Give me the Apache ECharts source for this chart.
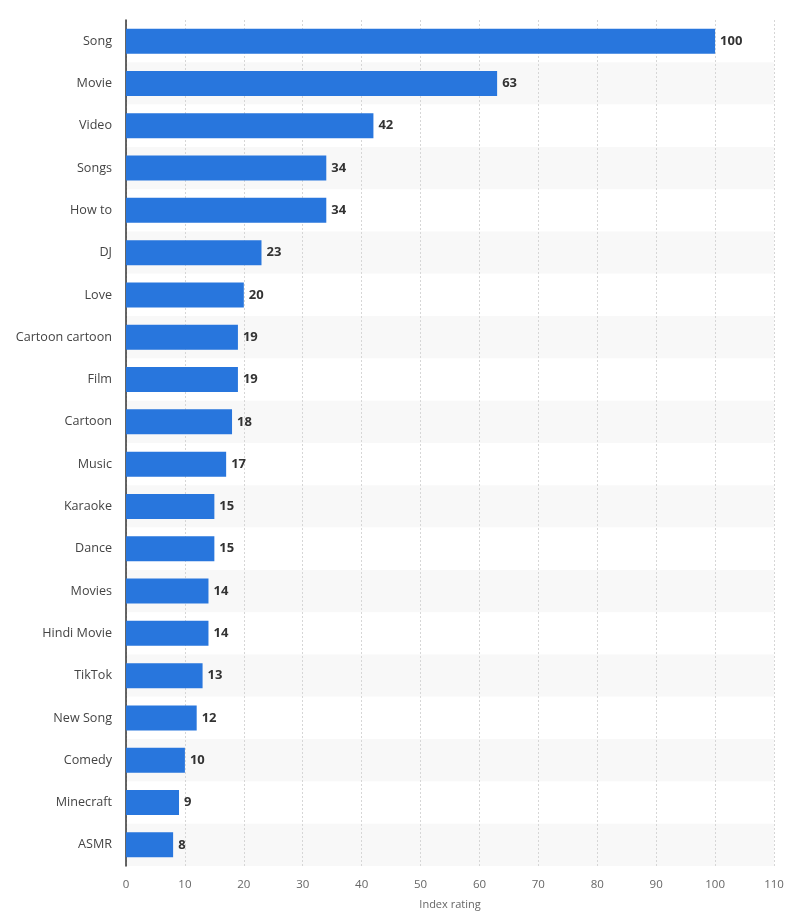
<!DOCTYPE html>
<html>
<head>
<meta charset="utf-8">
<script src="https://cdn.jsdelivr.net/npm/echarts@6/dist/echarts.min.js"></script>
<style>
  html, body { margin: 0; padding: 0; background: #fff; }
  #chart { width: 807px; height: 917px; }
</style>
</head>
<body>
<div id="chart"></div>
<script>
var categories = ['Song', 'Movie', 'Video', 'Songs', 'How to', 'DJ', 'Love', 'Cartoon cartoon',
  'Film', 'Cartoon', 'Music', 'Karaoke', 'Dance', 'Movies', 'Hindi Movie', 'TikTok',
  'New Song', 'Comedy', 'Minecraft', 'ASMR'];
var values = [100, 63, 42, 34, 34, 23, 20, 19, 19, 18, 17, 15, 15, 14, 14, 13, 12, 10, 9, 8];
var xTicks = { min: 0, max: 110, interval: 10 };

var myChart = echarts.init(document.getElementById('chart'));
var option = {
  animation: false,
  grid: { left: 126, right: 33, top: 20, bottom: 51 },
  xAxis: {
    type: 'value',
    min: xTicks.min,
    max: xTicks.max,
    interval: xTicks.interval,
    name: 'Index rating',
    nameLocation: 'middle',
    nameGap: 33,
    nameTextStyle: { color: '#666', fontSize: 11, fontFamily: 'Open Sans' },
    axisLine: { show: false },
    axisTick: { show: false },
    axisLabel: { color: '#666', fontSize: 11.5, fontFamily: 'Open Sans', margin: 13 },
    splitLine: { show: true, lineStyle: { color: '#d6d6d6', type: [2, 2], width: 1 } }
  },
  yAxis: {
    type: 'category',
    inverse: true,
    data: categories,
    axisLine: { show: true, lineStyle: { color: '#333', width: 1.5 } },
    axisTick: { show: false },
    axisLabel: { color: '#444', fontSize: 12.6, fontFamily: 'Open Sans', margin: 14 },
    splitArea: { show: true, areaStyle: { color: ['#ffffff', '#f8f8f8'] } }
  },
  series: [{
    type: 'bar',
    data: values,
    barWidth: 25,
    itemStyle: { color: '#2876dd' },
    label: {
      show: true,
      position: 'right',
      distance: 5,
      color: '#333',
      fontSize: 13,
      fontWeight: 'bold',
      fontFamily: 'Open Sans'
    }
  }]
};
myChart.setOption(option);
</script>
</body>
</html>
